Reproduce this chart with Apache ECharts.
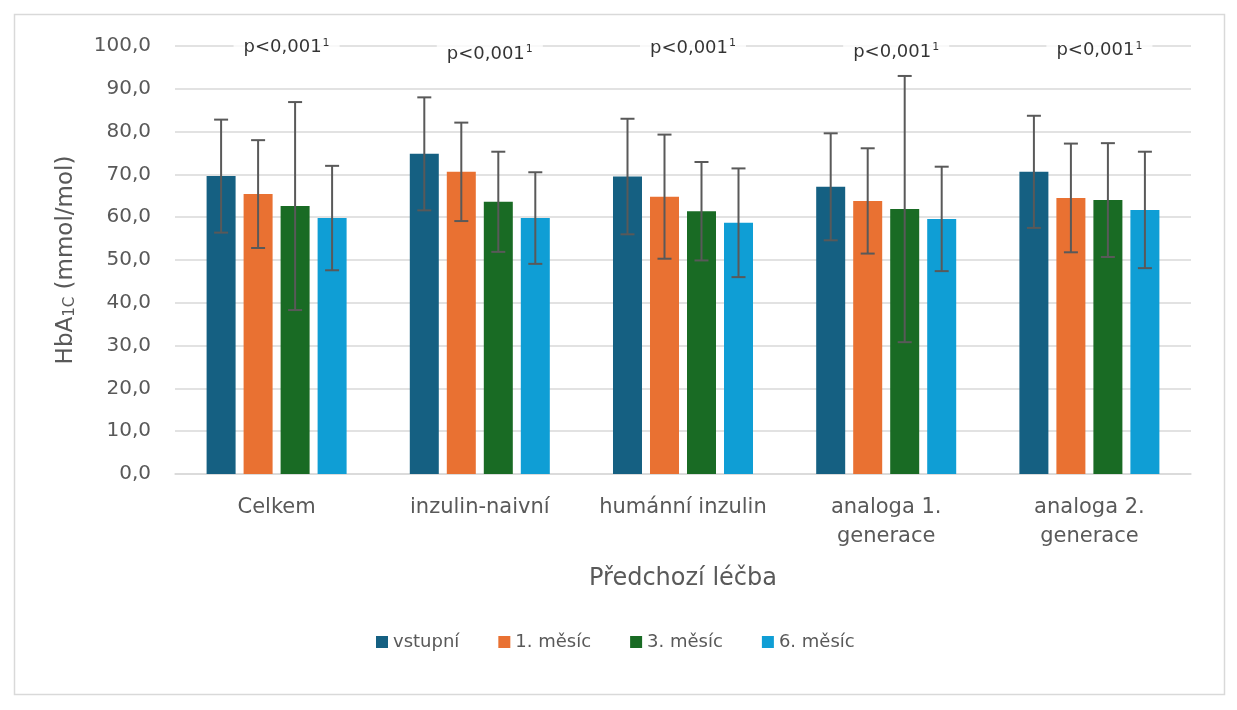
<!DOCTYPE html>
<html>
<head>
<meta charset="utf-8">
<script src="https://cdn.jsdelivr.net/npm/echarts@6/dist/echarts.min.js"></script>
<style>
html, body { margin: 0; padding: 0; background: #fff; }
#chart { width: 1237px; height: 710px; }
</style>
</head>
<body>
<div id="chart"></div>
<script>
var categories = ['Celkem', 'inzulin-naivní', 'humánní inzulin', 'analoga 1.\ngenerace', 'analoga 2.\ngenerace'];
var seriesNames = ['vstupní', '1. měsíc', '3. měsíc', '6. měsíc'];
var colors = ['#156082', '#E97132', '#196B24', '#0F9ED5'];

// mean values per time point
var vstupni = [69.6, 74.8, 69.5, 67.1, 70.6];
var mesic1 = [65.4, 70.6, 64.8, 63.8, 64.5];
var mesic3 = [62.6, 63.6, 61.4, 61.9, 64.0];
var mesic6 = [59.8, 59.8, 58.7, 59.6, 61.7];

// standard deviations (error bars)
var sdVstupni = [13.2, 13.2, 13.5, 12.5, 13.1];
var sdMesic1 = [12.6, 11.5, 14.5, 12.3, 12.7];
var sdMesic3 = [24.3, 11.7, 11.5, 31.1, 13.3];
var sdMesic6 = [12.2, 10.7, 12.7, 12.2, 13.6];

var pText = ['p<0,001', 'p<0,001', 'p<0,001', 'p<0,001', 'p<0,001'];
var pY = [99.6, 98.0, 99.4, 98.6, 98.9];

var means = [vstupni, mesic1, mesic3, mesic6];
var sds = [sdVstupni, sdMesic1, sdMesic3, sdMesic6];

var barWidth = 29;
var barGapPx = 8;
var offsets = [];
for (var k = 0; k < 4; k++) {
    offsets.push((k - 1.5) * (barWidth + barGapPx));
}

var fontFam = '"DejaVu Sans", sans-serif';

var series = [];
for (var i = 0; i < 4; i++) {
    series.push({
        name: seriesNames[i],
        type: 'bar',
        barWidth: barWidth,
        barGap: (barGapPx / barWidth * 100).toFixed(1) + '%',
        itemStyle: { color: colors[i] },
        data: means[i]
    });
}
for (var i = 0; i < 4; i++) {
    var errData = [];
    for (var j = 0; j < categories.length; j++) {
        errData.push([j, means[i][j] - sds[i][j], means[i][j] + sds[i][j]]);
    }
    series.push({
        type: 'custom',
        name: 'err' + i,
        z: 5,
        silent: true,
        renderItem: (function (off) {
            return function (params, api) {
                var x = api.coord([api.value(0), 0])[0] + off;
                var yLo = api.coord([api.value(0), api.value(1)])[1];
                var yHi = api.coord([api.value(0), api.value(2)])[1];
                var st = { stroke: '#595959', lineWidth: 2 };
                return {
                    type: 'group',
                    children: [
                        { type: 'line', shape: { x1: x, y1: yLo, x2: x, y2: yHi }, style: st },
                        { type: 'line', shape: { x1: x - 7, y1: yLo, x2: x + 7, y2: yLo }, style: st },
                        { type: 'line', shape: { x1: x - 7, y1: yHi, x2: x + 7, y2: yHi }, style: st }
                    ]
                };
            };
        })(offsets[i]),
        data: errData
    });
}
var pData = [];
for (var j = 0; j < categories.length; j++) {
    pData.push({ value: [j, pY[j]], text: pText[j] });
}
series.push({
    type: 'scatter',
    name: 'p',
    symbolSize: 0,
    silent: true,
    z: 10,
    data: pData,
    label: {
        show: true,
        position: 'inside',
        offset: [10, 0],
        formatter: function (p) { return '{a|' + p.data.text + '}{s|1}'; },
        backgroundColor: '#fff',
        padding: [2, 10],
        rich: {
            a: { fontSize: 18, color: '#000', fontFamily: fontFam },
            s: { fontSize: 11, color: '#000', fontFamily: fontFam, verticalAlign: 'top', padding: [0, 0, 10, 1] }
        }
    }
});

var chart = echarts.init(document.getElementById('chart'));
chart.setOption({
    animation: false,
    backgroundColor: '#fff',
    graphic: [{
        type: 'rect',
        shape: { x: 14.5, y: 14.5, width: 1210, height: 680 },
        style: { fill: 'none', stroke: '#d9d9d9', lineWidth: 1.5 },
        silent: true
    }],
    grid: { left: 175, right: 46, top: 46, bottom: 236 },
    legend: {
        data: seriesNames,
        top: 628,
        left: 371,
        icon: 'rect',
        itemWidth: 12,
        itemHeight: 12,
        itemGap: 39,
        textStyle: { fontSize: 18, color: '#595959', fontFamily: fontFam }
    },
    xAxis: {
        type: 'category',
        data: categories,
        axisTick: { show: false },
        axisLine: { lineStyle: { color: '#d9d9d9', width: 1.5 } },
        axisLabel: { fontSize: 21, color: '#595959', fontFamily: fontFam, lineHeight: 29, margin: 19, interval: 0 },
        name: 'Předchozí léčba',
        nameLocation: 'middle',
        nameGap: 93,
        nameTextStyle: { fontSize: 24, color: '#595959', fontFamily: fontFam }
    },
    yAxis: {
        type: 'value',
        min: 0,
        max: 100,
        interval: 10,
        axisLine: { show: false },
        axisTick: { show: false },
        splitLine: { lineStyle: { color: '#d9d9d9', width: 1.5 } },
        axisLabel: {
            fontSize: 20, color: '#595959', fontFamily: fontFam, margin: 24,
            formatter: function (v) { return v.toFixed(1).replace('.', ','); }
        },
        name: '{a|HbA}{b|1C}{a| (mmol/mol)}',
        nameLocation: 'middle',
        nameGap: 97,
        nameTextStyle: {
            rich: {
                a: { fontSize: 23, color: '#595959', fontFamily: fontFam },
                b: { fontSize: 15, color: '#595959', fontFamily: fontFam, verticalAlign: 'bottom', padding: [7, 0, 0, 0] }
            }
        }
    },
    series: series
});
</script>
</body>
</html>
